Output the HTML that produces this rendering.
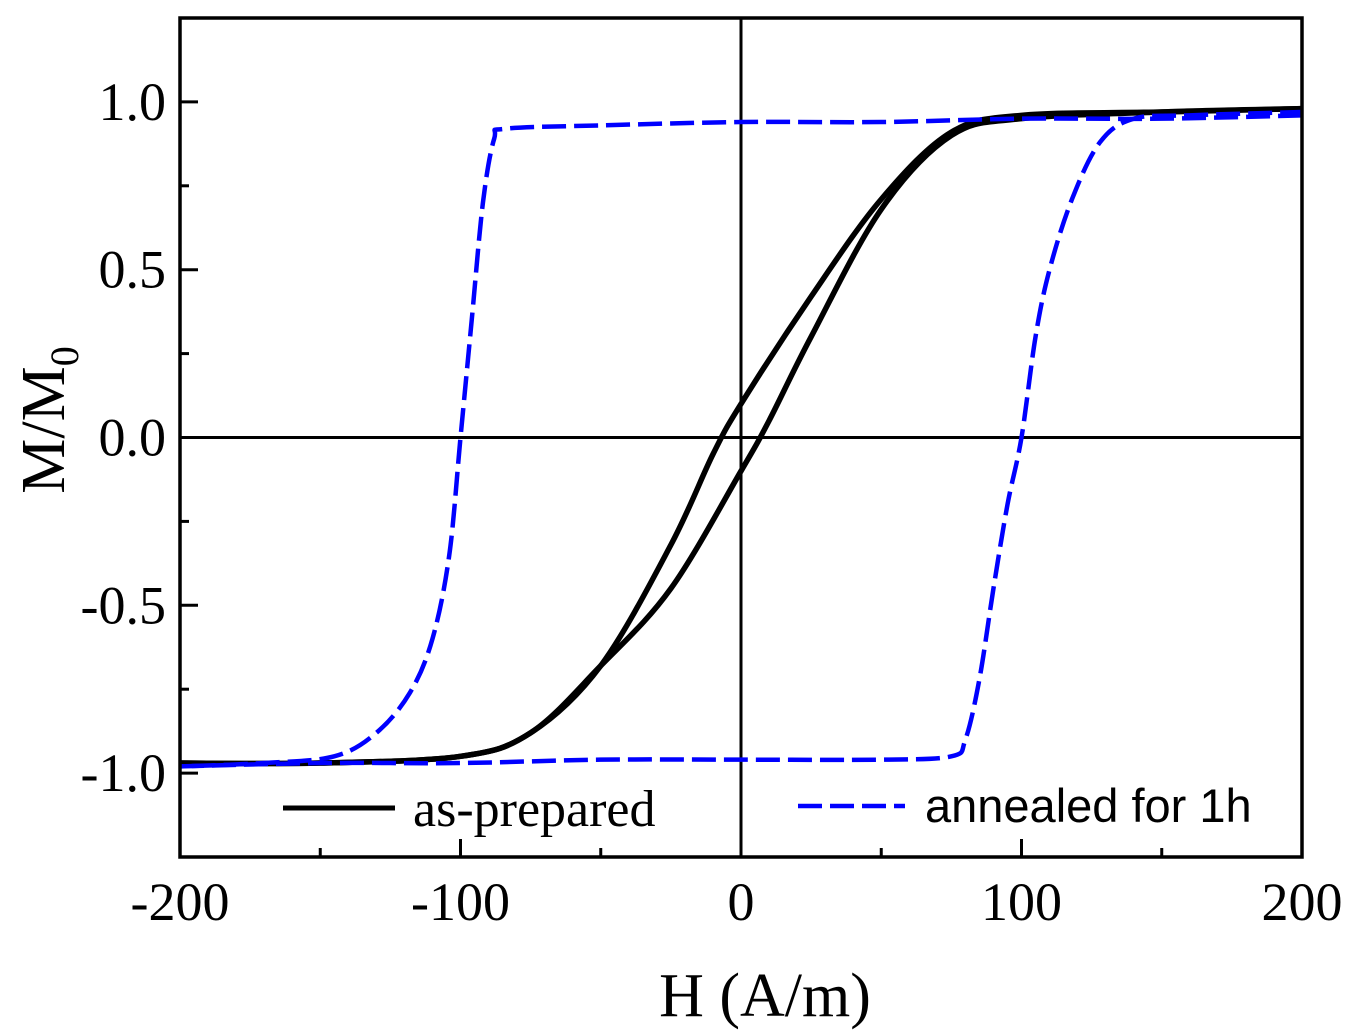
<!DOCTYPE html>
<html><head><meta charset="utf-8"><style>
body{margin:0;background:#fff;width:1355px;height:1034px;overflow:hidden}
svg{display:block}
.tk{font-family:"Liberation Serif",serif;font-size:54px;fill:#000}
</style></head><body>
<svg id="chart" width="1355" height="1034">
</svg>
<script>
const xTicks=[-200,-100,0,100,200];
const xMinor=[-150,-50,50,150];
const yTicks=[-1.0,-0.5,0.0,0.5,1.0];
const yMinor=[-0.75,-0.25,0.25,0.75];
const blueDownH=[200,150,100,50,0,-50,-84,-88,-92,-96,-100,-104,-110,-118,-130,-145,-170,-200];
const blueDownM=[0.96,0.95,0.95,0.94,0.94,0.93,0.92,0.89,0.7,0.35,0.0,-0.35,-0.6,-0.76,-0.88,-0.95,-0.97,-0.98];
const blueUpH=[-200,-150,-100,-50,0,50,75,80,85,90,95,100,105,110,118,128,140,160,200];
const blueUpM=[-0.98,-0.97,-0.97,-0.96,-0.96,-0.96,-0.95,-0.9,-0.72,-0.45,-0.2,0.0,0.3,0.5,0.71,0.88,0.95,0.96,0.97];
const blackDownH=[200,150,100,75,50,25,0,-10,-25,-50,-75,-100,-150,-200];
const blackDownM=[0.98,0.97,0.96,0.91,0.71,0.42,0.1,-0.05,-0.32,-0.68,-0.88,-0.95,-0.97,-0.97];
const blackUpH=[-200,-150,-100,-75,-50,-25,0,10,25,50,75,100,150,200];
const blackUpM=[-0.97,-0.97,-0.95,-0.88,-0.68,-0.45,-0.1,0.05,0.3,0.68,0.9,0.95,0.97,0.98];
const X0=180,X1=1302,Y0=18,Y1=857;
const sx=h=>X0+(h+200)/400*(X1-X0);
const sy=m=>Y1-(m+1.25)/2.5*(Y1-Y0);
const NS="http://www.w3.org/2000/svg";
const svg=document.getElementById('chart');
function mk(t,a){const e=document.createElementNS(NS,t);for(const k in a)e.setAttribute(k,a[k]);svg.appendChild(e);return e;}
function smooth(H,M){const p=H.map((h,i)=>[sx(h),sy(M[i])]);let d=`M${p[0][0]},${p[0][1]}`;
for(let i=0;i<p.length-1;i++){const a=p[Math.max(0,i-1)],b=p[i],c=p[i+1],e=p[Math.min(p.length-1,i+2)];
d+=` C${b[0]+(c[0]-a[0])/6},${b[1]+(c[1]-a[1])/6} ${c[0]-(e[0]-b[0])/6},${c[1]-(e[1]-b[1])/6} ${c[0]},${c[1]}`;}return d;}
let e=mk('line',{x1:sx(0),x2:sx(0),y1:Y0,y2:Y1,stroke:'#000','stroke-width':3});

e=mk('line',{x1:X0,x2:X1,y1:sy(0),y2:sy(0),stroke:'#000','stroke-width':3});

e=mk('path',{d:smooth(blackDownH,blackDownM),fill:'none',stroke:'#000','stroke-width':5.5});

e=mk('path',{d:smooth(blackUpH,blackUpM),fill:'none',stroke:'#000','stroke-width':5.5});

e=mk('path',{d:smooth(blueDownH,blueDownM),fill:'none',stroke:'#0000ff','stroke-width':4.5,'stroke-dasharray':'24,8'});

e=mk('path',{d:smooth(blueUpH,blueUpM),fill:'none',stroke:'#0000ff','stroke-width':4.5,'stroke-dasharray':'24,8'});

e=mk('rect',{x:X0,y:Y0,width:X1-X0,height:Y1-Y0,fill:'none',stroke:'#000','stroke-width':3.5});

xTicks.forEach(v=>{let t=mk('line',{x1:sx(v),x2:sx(v),y1:Y1,y2:Y1-18,stroke:'#000','stroke-width':3});

let l=mk('text',{x:sx(v),y:920,'text-anchor':'middle',class:'tk'});l.textContent=v;
});
xMinor.forEach(v=>{let t=mk('line',{x1:sx(v),x2:sx(v),y1:Y1,y2:Y1-9,stroke:'#000','stroke-width':3});
});
yTicks.forEach(v=>{let t=mk('line',{x1:X0,x2:X0+18,y1:sy(v),y2:sy(v),stroke:'#000','stroke-width':3});

let l=mk('text',{x:166,y:sy(v)+18,'text-anchor':'end',class:'tk'});l.textContent=v.toFixed(1);
});
yMinor.forEach(v=>{let t=mk('line',{x1:X0,x2:X0+9,y1:sy(v),y2:sy(v),stroke:'#000','stroke-width':3});
});
e=mk('line',{x1:283,x2:395,y1:808,y2:808,stroke:'#000','stroke-width':5});

e=mk('text',{x:413,y:826,'font-family':'Liberation Serif, serif','font-size':52});e.textContent='as-prepared';

e=mk('line',{x1:798,x2:905,y1:806,y2:806,stroke:'#0000ff','stroke-width':4.5,'stroke-dasharray':'24,8'});

e=mk('text',{x:925,y:822,'font-family':'Liberation Sans, sans-serif','font-size':47});e.textContent='annealed for 1h';

e=mk('text',{x:765,y:1016,'text-anchor':'middle','font-family':'Liberation Serif, serif','font-size':62});e.textContent='H (A/m)';

e=mk('text',{x:0,y:0,'text-anchor':'middle','font-family':'Liberation Serif, serif','font-size':62,transform:'translate(64,420) rotate(-90)'});
e.innerHTML='M/M<tspan font-size="40" dy="14">0</tspan>';

</script>
</body></html>
